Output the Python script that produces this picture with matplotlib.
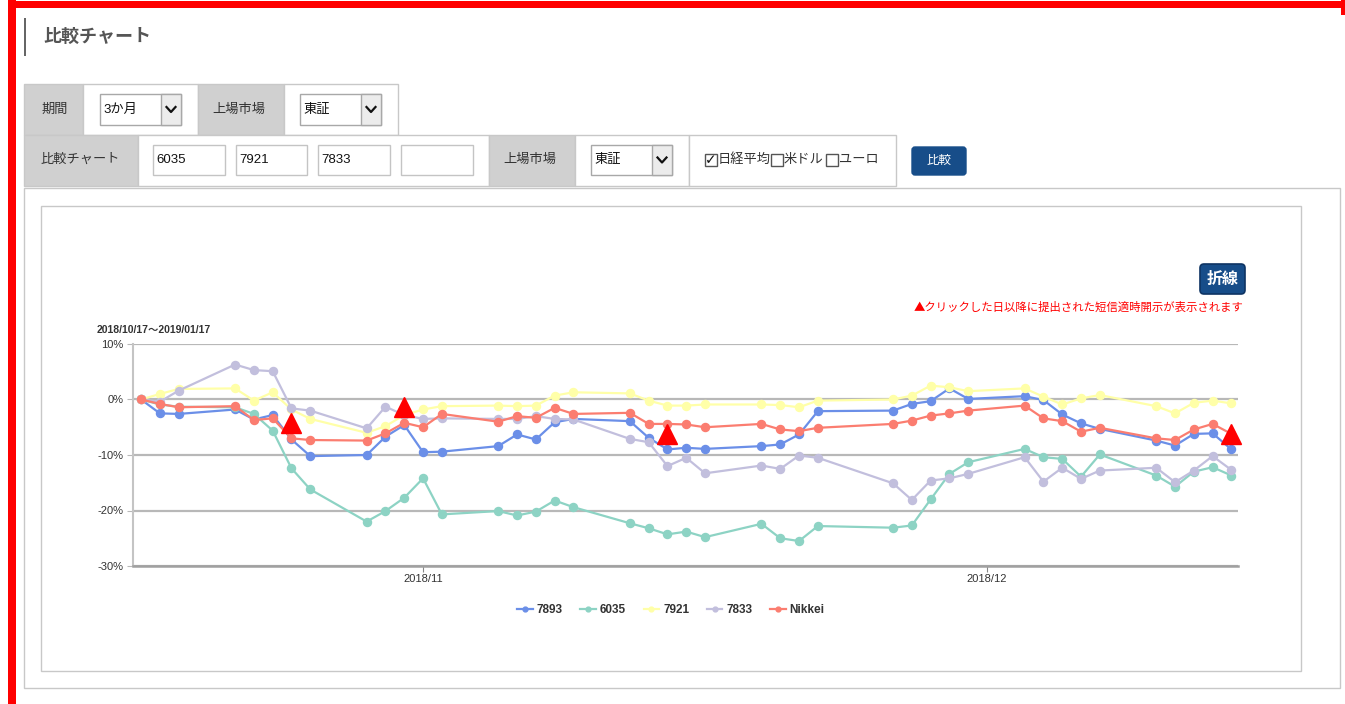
import matplotlib
matplotlib.use("Agg")
import matplotlib.pyplot as plt
import matplotlib.dates as mdates
from matplotlib.patches import Rectangle, FancyBboxPatch
import numpy as np

plt.rcParams['font.family'] = ['Liberation Sans', 'Noto Sans CJK JP', 'DejaVu Sans']

# ---- data (percent change since 2018/10/17) ----
dates = ["2018-10-17", "2018-10-18", "2018-10-19", "2018-10-22", "2018-10-23", "2018-10-24",
         "2018-10-25", "2018-10-26", "2018-10-29", "2018-10-30", "2018-10-31",
         "2018-11-01", "2018-11-02", "2018-11-05", "2018-11-06", "2018-11-07", "2018-11-08",
         "2018-11-09", "2018-11-12", "2018-11-13", "2018-11-14", "2018-11-15", "2018-11-16",
         "2018-11-19", "2018-11-20", "2018-11-21", "2018-11-22", "2018-11-26", "2018-11-27",
         "2018-11-28", "2018-11-29", "2018-11-30",
         "2018-12-03", "2018-12-04", "2018-12-05", "2018-12-06", "2018-12-07", "2018-12-10",
         "2018-12-11", "2018-12-12", "2018-12-13", "2018-12-14"]

s7893 = [0, -2.5, -2.6, -1.8, -3.6, -2.8, -7.2, -10.2, -10.0, -6.7, -4.6,
         -9.5, -9.4, -8.4, -6.3, -7.2, -4.1, -3.5, -3.9, -6.9, -9.0, -8.7, -8.9,
         -8.4, -8.1, -6.3, -2.1, -2.0, -0.8, -0.3, 2.0, 0.1,
         0.6, -0.1, -2.7, -4.3, -5.3, -7.4, -8.3, -6.2, -6.1, -9.0]
s6035 = [0, -0.9, -1.3, -1.4, -2.6, -5.6, -12.4, -16.2, -22.0, -20.1, -17.7,
         -14.2, -20.7, -20.1, -20.9, -20.2, -18.2, -19.4, -22.3, -23.2, -24.3, -23.8, -24.8,
         -22.4, -25.0, -25.5, -22.8, -23.1, -22.7, -18.0, -13.4, -11.3,
         -8.9, -10.4, -10.7, -13.9, -9.9, -13.7, -15.7, -13.0, -12.2, -13.7]
s7921 = [0, 1.0, 1.9, 2.0, -0.2, 1.3, -1.8, -3.5, -6.0, -4.8, -2.8,
         -1.8, -1.2, -1.1, -1.2, -1.1, 0.7, 1.3, 1.1, -0.2, -1.1, -1.1, -0.9,
         -0.9, -1.0, -1.4, -0.2, 0.0, 0.7, 2.5, 2.2, 1.5,
         2.0, 0.5, -0.9, 0.2, 0.8, -1.2, -2.5, -0.6, -0.2, -0.7]
s7833 = [0, -0.4, 1.6, 6.3, 5.3, 5.1, -1.6, -2.0, -5.2, -1.3, -2.8,
         -3.5, -3.4, -3.5, -3.5, -3.0, -3.5, -3.6, -7.1, -7.7, -12.0, -10.5, -13.3,
         -11.9, -12.5, -10.1, -10.5, -15.1, -18.1, -14.6, -14.2, -13.4,
         -10.4, -14.8, -12.3, -14.3, -12.8, -12.3, -14.9, -12.8, -10.2, -12.7]
nikkei = [0, -0.8, -1.4, -1.2, -3.7, -3.4, -7.0, -7.3, -7.4, -6.1, -4.2,
          -5.0, -2.6, -4.0, -3.0, -3.3, -1.5, -2.6, -2.4, -4.4, -4.4, -4.5, -5.0,
          -4.4, -5.4, -5.7, -5.1, -4.4, -3.8, -2.9, -2.5, -2.0,
          -1.1, -3.4, -3.9, -5.8, -5.1, -7.0, -7.3, -5.4, -4.4, -6.2]

series_names = ["7893", "6035", "7921", "7833", "Nikkei"]
series_colors = ["#6b8fe8", "#8dd3c4", "#ffffa8", "#c2bfdd", "#fb7d70"]

# disclosure markers (red triangles)
mark_dates = ["2018-10-25", "2018-10-31", "2018-11-14", "2018-12-14"]
mark_vals = [-4.2, -1.4, -6.2, -6.2]

yticks = [-30, -20, -10, 0, 10]
xtick_dates = ["2018-11-01", "2018-12-01"]
xtick_labels = ["2018/11", "2018/12"]

W, H = 1345, 704
fig = plt.figure(figsize=(W / 100, H / 100), dpi=100)

# ---- page background / form ----
bg = fig.add_axes([0, 0, 1, 1])
bg.set_xlim(0, W)
bg.set_ylim(H, 0)
bg.axis("off")

def box(x0, y0, x1, y1, fc="white", ec="#c8c8c8", lw=1.0, z=1):
    bg.add_patch(Rectangle((x0, y0), x1 - x0, y1 - y0, facecolor=fc, edgecolor=ec, linewidth=lw, zorder=z))

def select(x0, y0, x1, y1, label):
    box(x0, y0, x1, y1, ec="#a8a8a8", z=2)
    box(x1 - 20, y0, x1, y1, fc="#ececec", ec="#a8a8a8", z=3)
    cx, cy = x1 - 10, (y0 + y1) / 2
    bg.plot([cx - 4.5, cx, cx + 4.5], [cy - 2.5, cy + 2.5, cy - 2.5], color="#111", lw=1.6, zorder=4)
    bg.text(x0 + 3, cy, label, fontsize=9.5, va="center", ha="left", color="#111", zorder=4)

# red frame
bg.add_patch(Rectangle((10, 1), W - 10, 6.5, facecolor="#ff0000", edgecolor="none", zorder=5))
bg.add_patch(Rectangle((1341, 0), 4, 15, facecolor="#ff0000", edgecolor="none", zorder=5))
bg.add_patch(Rectangle((8, 0), 7.5, H, facecolor="#ff0000", edgecolor="none", zorder=5))

# heading
bg.add_patch(Rectangle((23.5, 18), 2.5, 38, facecolor="#666666", edgecolor="none"))
bg.text(43, 36, "比較チャート", fontsize=13, fontweight="bold", color="#555555",
        va="center", ha="left", family=["Noto Sans CJK JP"])

# row 1
box(24, 84, 83, 135, fc="#d0d0d0")
box(83, 84, 198, 135)
box(198, 84, 284, 135, fc="#d0d0d0")
box(284, 84, 398, 135)
bg.text(41, 110, "期間", fontsize=9.5, va="center", color="#333")
bg.text(212, 110, "上場市場", fontsize=9.5, va="center", color="#333")
select(100, 94, 181, 125, "3か月")
select(300, 94, 381, 125, "東証")

# row 2
box(24, 135, 138, 186, fc="#d0d0d0")
box(138, 135, 489, 186)
box(489, 135, 575, 186, fc="#d0d0d0")
box(575, 135, 689, 186)
box(689, 135, 896, 186)
bg.text(41, 160, "比較チャート", fontsize=9.5, va="center", color="#333")
bg.text(503, 160, "上場市場", fontsize=9.5, va="center", color="#333")
for (x0, x1), code in zip([(153, 225), (236, 307), (318, 390), (401, 473)], ["6035", "7921", "7833", ""]):
    box(x0, 145, x1, 175, ec="#c4c4c4", z=2)
    bg.text(x0 + 3, 160, code, fontsize=9.5, va="center", color="#111", zorder=3)
select(591, 145, 672, 175, "東証")

# checkboxes
for bx, lab in zip([705, 771, 826], ["日経平均", "米ドル", "ユーロ"]):
    box(bx, 154, bx + 12, 166, ec="#555", z=2)
    bg.text(bx + 13, 160, lab, fontsize=9.5, va="center", color="#333", zorder=3)
bg.text(711, 160.5, "✓", fontsize=10, va="center", ha="center", color="#111",
        family=["DejaVu Sans"], zorder=4)

# compare button
bg.add_patch(FancyBboxPatch((912, 147), 54, 28, boxstyle="round,pad=0,rounding_size=3",
                            facecolor="#174d89", edgecolor="#174d89", zorder=2))
bg.text(939, 161, "比較", fontsize=9, color="white", ha="center", va="center", zorder=3)

# chart panels
box(24, 188, 1340, 688, ec="#c8c8c8", z=0.5)
box(41, 206, 1301, 671, ec="#c8c8c8", z=0.6)

# line-type button and note
bg.add_patch(FancyBboxPatch((1200, 264), 45, 30, boxstyle="round,pad=0,rounding_size=4",
                            facecolor="#174d89", edgecolor="#0e3463", lw=1.2, zorder=2))
bg.text(1222.5, 279, "折線", fontsize=11.5, fontweight="bold", color="white",
        ha="center", va="center", zorder=3, family=["Noto Sans CJK JP"])
bg.text(1244, 307, "▲クリックした日以降に提出された短信適時開示が表示されます", fontsize=8.2,
        color="#ff0000", ha="right", va="center", family=["Noto Sans CJK JP", "DejaVu Sans"])

bg.text(97, 330, "2018/10/17～2019/01/17", fontsize=7.5, fontweight="bold", color="#333",
        ha="left", va="center")

# ---- chart ----
ax_l, ax_r, ax_t, ax_b = 133, 1238, 344, 566
ax = fig.add_axes([ax_l / W, 1 - ax_b / H, (ax_r - ax_l) / W, (ax_b - ax_t) / H])
ax.set_facecolor("none")

x = mdates.date2num(np.array(dates, dtype="datetime64[D]"))
for vals, name, col in zip([s7893, s6035, s7921, s7833, nikkei], series_names, series_colors):
    ax.plot(x, vals, color=col, lw=1.6, marker="o", ms=5.8, mec=col, mfc=col, label=name, zorder=3)

mx = mdates.date2num(np.array(mark_dates, dtype="datetime64[D]"))
ax.plot(mx, mark_vals, ls="none", marker="^", ms=14, color="#ff0000", mec="#ff0000",
        zorder=5, clip_on=False)

ax.set_ylim(-30, 10)
ax.set_xlim(x[0] - 0.43, mdates.date2num(np.datetime64("2018-12-01")) + 13.35)
ax.set_yticks(yticks)
ax.set_yticklabels([f"{v}%" for v in yticks])
ax.set_xticks(mdates.date2num(np.array(xtick_dates, dtype="datetime64[D]")))
ax.set_xticklabels(xtick_labels)
ax.yaxis.grid(True, color="#b8b8b8", lw=1.6)
ax.set_axisbelow(True)
for s in ["top", "right"]:
    ax.spines[s].set_visible(False)
ax.spines["left"].set_color("#c4c4c4")
ax.spines["left"].set_linewidth(1.5)
ax.spines["bottom"].set_color("#a0a0a0")
ax.spines["bottom"].set_linewidth(1.8)
ax.tick_params(axis="y", length=4, color="#b8b8b8", labelsize=8, labelcolor="#333", pad=3)
ax.tick_params(axis="x", length=4, color="#888", labelsize=8, labelcolor="#333", pad=2)

leg = fig.legend(loc="center", bbox_to_anchor=(671 / W, 1 - 610 / H), ncol=5, frameon=False,
                 prop={"size": 8.5, "weight": "bold"}, handlelength=1.3, handletextpad=0.35,
                 columnspacing=1.5, markerscale=0.6)
for t in leg.get_texts():
    t.set_color("#333")

fig.savefig("out.png", dpi=100)
